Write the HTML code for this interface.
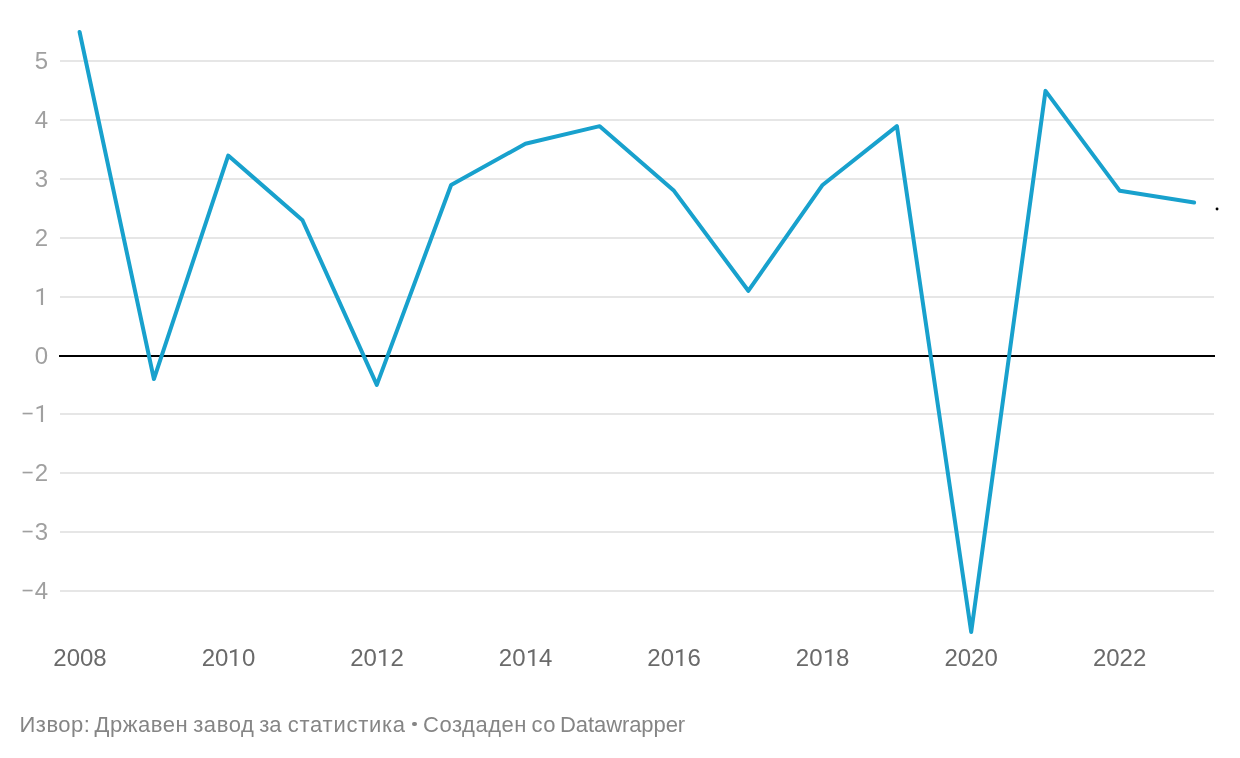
<!DOCTYPE html>
<html><head><meta charset="utf-8">
<style>
html,body{margin:0;padding:0;background:#fff;}
body{width:1240px;height:758px;position:relative;overflow:hidden;font-family:"Liberation Sans",sans-serif;}
.g{position:absolute;left:60px;width:1154px;height:2px;background:#e6e6e6;}
.z{position:absolute;left:59px;width:1156px;height:2px;top:355px;background:#000;}
.yl{position:absolute;left:0;width:48px;text-align:right;font-size:24px;line-height:28px;color:#a0a0a0;}
.xl{position:absolute;top:644px;width:80px;text-align:center;font-size:24px;line-height:28px;color:#6a6a6a;}
.ft{position:absolute;top:712px;font-size:22px;line-height:26px;color:#858585;white-space:nowrap;}
.bu{position:absolute;left:412.3px;top:721.5px;width:4.6px;height:4.6px;border-radius:50%;background:#858585;}
.tx{position:absolute;left:0;top:0;width:1240px;height:758px;will-change:transform;}
svg.ch{position:absolute;left:0;top:0;}
svg.one{display:inline-block;vertical-align:baseline;fill:currentColor;}
.dot{position:absolute;left:1215.6px;top:207.4px;width:2.8px;height:2.8px;border-radius:1px;background:#000;}
</style></head><body>
<div class="g" style="top:60px"></div>
<div class="g" style="top:119px"></div>
<div class="g" style="top:178px"></div>
<div class="g" style="top:237px"></div>
<div class="g" style="top:296px"></div>
<div class="g" style="top:413px"></div>
<div class="g" style="top:472px"></div>
<div class="g" style="top:531px"></div>
<div class="g" style="top:590px"></div>
<div class="z"></div>
<svg class="ch" width="1240" height="758" viewBox="0 0 1240 758"><polyline points="79.60,32.04 153.90,379.02 228.20,155.55 302.50,220.24 376.80,384.90 451.10,184.95 525.40,143.78 599.70,126.14 674.00,190.83 748.30,290.81 822.60,184.95 896.90,126.14 971.20,631.91 1045.50,90.86 1119.80,190.83 1194.10,202.59" fill="none" stroke="#18a1cd" stroke-width="4" stroke-linejoin="round" stroke-linecap="round"/><circle cx="1217.05" cy="209" r="1.45" fill="#000"/></svg>
<div class="tx">
<div class="yl" style="top:47px">5</div>
<div class="yl" style="top:106px">4</div>
<div class="yl" style="top:165px">3</div>
<div class="yl" style="top:224px">2</div>
<div class="yl" style="top:283px"><svg class="one" width="13.48" height="17.14" viewBox="41 0 1150 1463"><path d="M729 1463H543V230L170 367V199L700 0H729Z"/></svg></div>
<div class="yl" style="top:342px">0</div>
<div class="yl" style="top:400px"><svg class="one" width="14" height="17.14" viewBox="0 0 14 17.14"><rect x="1.6" y="7.72" width="10" height="1.65"/></svg><svg class="one" width="13.48" height="17.14" viewBox="41 0 1150 1463"><path d="M729 1463H543V230L170 367V199L700 0H729Z"/></svg></div>
<div class="yl" style="top:459px"><svg class="one" width="14" height="17.14" viewBox="0 0 14 17.14"><rect x="1.6" y="7.72" width="10" height="1.65"/></svg>2</div>
<div class="yl" style="top:518px"><svg class="one" width="14" height="17.14" viewBox="0 0 14 17.14"><rect x="1.6" y="7.72" width="10" height="1.65"/></svg>3</div>
<div class="yl" style="top:577px"><svg class="one" width="14" height="17.14" viewBox="0 0 14 17.14"><rect x="1.6" y="7.72" width="10" height="1.65"/></svg>4</div>
<div class="xl" style="left:40.0px">2008</div>
<div class="xl" style="left:188.5px">20<svg class="one" width="13.48" height="17.14" viewBox="0 0 1150 1463"><path d="M729 1463H543V230L170 367V199L700 0H729Z"/></svg>0</div>
<div class="xl" style="left:337.0px">20<svg class="one" width="13.48" height="17.14" viewBox="0 0 1150 1463"><path d="M729 1463H543V230L170 367V199L700 0H729Z"/></svg>2</div>
<div class="xl" style="left:485.6px">20<svg class="one" width="13.48" height="17.14" viewBox="0 0 1150 1463"><path d="M729 1463H543V230L170 367V199L700 0H729Z"/></svg>4</div>
<div class="xl" style="left:634.1px">20<svg class="one" width="13.48" height="17.14" viewBox="0 0 1150 1463"><path d="M729 1463H543V230L170 367V199L700 0H729Z"/></svg>6</div>
<div class="xl" style="left:782.6px">20<svg class="one" width="13.48" height="17.14" viewBox="0 0 1150 1463"><path d="M729 1463H543V230L170 367V199L700 0H729Z"/></svg>8</div>
<div class="xl" style="left:931.1px">2020</div>
<div class="xl" style="left:1079.6px">2022</div>
<div class="ft" style="left:19.57px;letter-spacing:0.462px">Извор:</div>
<div class="ft" style="left:94.62px;letter-spacing:0.505px">Државен</div>
<div class="ft" style="left:193.13px;letter-spacing:0.619px">завод</div>
<div class="ft" style="left:259.13px;letter-spacing:0.149px">за</div>
<div class="ft" style="left:287.85px;letter-spacing:0.725px">статистика</div>
<div class="ft" style="left:423.05px;letter-spacing:0.516px">Создаден</div>
<div class="ft" style="left:531.47px;letter-spacing:0.600px">со</div>
<div class="ft" style="left:560.00px;letter-spacing:-0.080px">Datawrapper</div>
<div class="bu"></div>
</div>
</body></html>
